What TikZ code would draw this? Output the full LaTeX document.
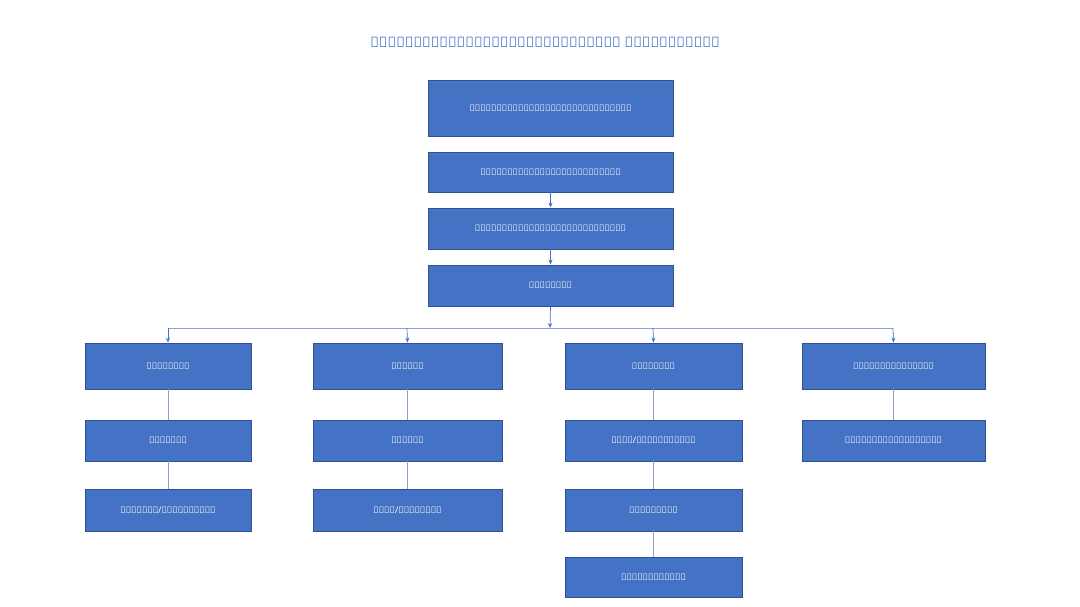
\documentclass[tikz,border=0pt]{standalone}
\usepackage{fontspec}
\setmainfont{Noto Sans}
\usetikzlibrary{arrows.meta}
\definecolor{bx}{HTML}{4472C4}
\definecolor{bd}{HTML}{2F528F}
\definecolor{ln}{HTML}{8FA3C8}
\begin{document}
\begin{tikzpicture}[x=1pt,y=-1pt,
 box/.style={draw=bd,fill=bx,text=white,font=\small,line width=0.8pt,inner sep=0pt},
 con/.style={draw=ln,line width=0.7pt},
 arr/.style={con,-{Stealth[length=5pt,width=4pt]},draw=bx}]
\useasboundingbox[fill=white] (0,0) rectangle (1080,606);
\newcommand\bb[6]{\node[box,minimum width=#4-#2,minimum height=#5-#3] (#1) at ({(#2+#4)/2},{(#3+#5)/2}) {#6};}
\node[text=bx,font=\Large\bfseries] (title) at (545,42) {ချင်းပြည်နယ်ပြည်သူ့ရဲတပ်ဖွဲ့၏ ဖွဲ့စည်းပုံ};
\bb{b1}{428}{80}{673}{136}{ခရိုင်ပြည်သူ့ရဲတပ်ဖွဲ့မှူးရုံး}
\bb{b2}{428}{152}{673}{192}{ခရိုင်ပြည်သူ့ရဲတပ်ဖွဲ့မှူး}
\bb{b3}{428}{208}{673}{249}{ဒုခရိုင်ပြည်သူ့ရဲတပ်ဖွဲ့မှူး}
\bb{b4}{428}{265}{673}{306}{ရုံးအုပ်}
\bb{a1}{85}{343}{251}{389}{ဦးစီးဌာန}
\bb{c1}{313}{343}{502}{389}{ရေးဌာန}
\bb{d1}{565}{343}{742}{389}{ထောက်ဌာန}
\bb{e1}{802}{343}{985}{389}{မှုခင်းမှတ်တမ်း}
\bb{a2}{85}{420}{251}{461}{မှုခင်း}
\bb{c2}{313}{420}{502}{461}{အင်အား}
\bb{d2}{565}{420}{742}{461}{စတို/လက်နက်တိုက်}
\bb{e2}{802}{420}{985}{461}{မှုခင်းမှတ်တမ်းအကူ}
\bb{a3}{85}{489}{251}{531}{လုံခြုံ/ထောက်လှမ်း}
\bb{c3}{313}{489}{502}{531}{ဥပဒေ/စည်းကမ်း}
\bb{d3}{565}{489}{742}{531}{ငွေစာရင်း}
\bb{d4}{565}{557}{742}{597}{ပို့ဆောင်ရေး}
\draw[arr] (b2) -- (b3);
\draw[arr] (b3) -- (b4);
\coordinate (hl) at (168,328);
\coordinate (hr) at (893,328);
\draw[arr] (b4.south) -- (550,328);
\draw[con] (hl) -- (hr);
\draw[arr] (hl) -- (a1.north);
\draw[arr] (407,328) -- (c1.north);
\draw[arr] (653,328) -- (d1.north);
\draw[arr] (hr) -- (e1.north);
\draw[con] (a1) -- (a2); \draw[con] (a2) -- (a3);
\draw[con] (c1) -- (c2); \draw[con] (c2) -- (c3);
\draw[con] (d1) -- (d2); \draw[con] (d2) -- (d3); \draw[con] (d3) -- (d4);
\draw[con] (e1) -- (e2);
\end{tikzpicture}
\end{document}
